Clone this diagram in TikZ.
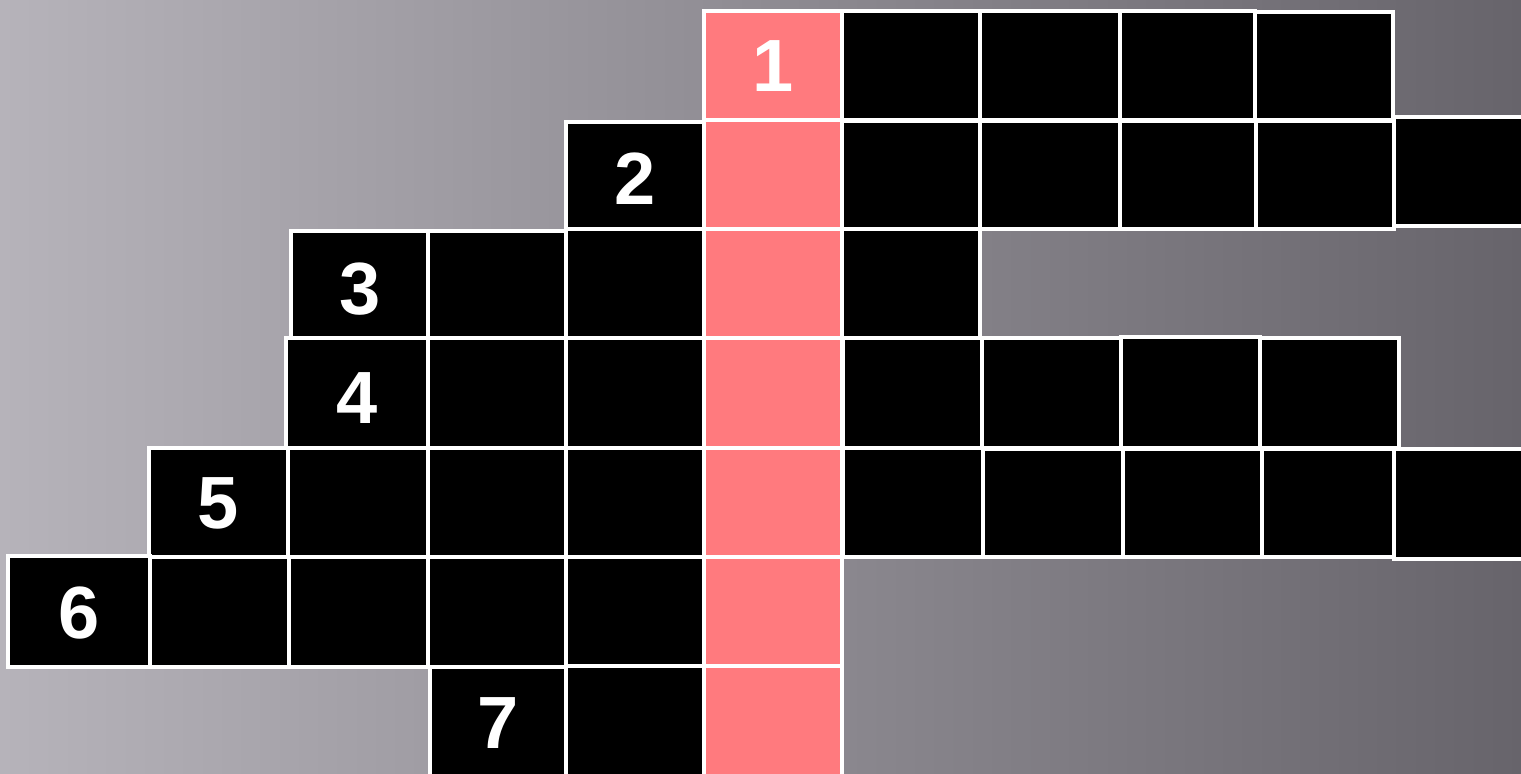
\documentclass[tikz,border=0pt]{standalone}
\usepackage{fontspec}
\setmainfont{Liberation Sans}
\usetikzlibrary{fadings}
\tikzfading[name=bandfade, left color=transparent!100, middle color=transparent!0, right color=transparent!100]
\definecolor{pinkcell}{HTML}{FF7A7E}
\definecolor{bgL}{HTML}{B6B3BA}
\definecolor{bgR}{HTML}{67646B}
\tikzset{
  blk/.style={fill=black, draw=white, line width=1.6pt},
  pnk/.style={fill=pinkcell, draw=white, line width=1.6pt},
  num/.style={text=white, font=\fontsize{37}{37}\selectfont\bfseries, inner sep=0pt, anchor=center},
  streak/.style={fill=white, path fading=bandfade}
}
\begin{document}
\begin{tikzpicture}[x=0.5pt, y=-0.5pt]
\useasboundingbox (0,0) rectangle (1521,774);
\begin{scope}
\clip (0,0) rectangle (1521,774);
\shade[left color=bgL, right color=bgR] (0,0) rectangle (1521,774);
% soft diagonal streaks
\fill[streak, fill opacity=0.14] (150,0) -- (420,0) -- (900,774) -- (630,774) -- cycle;
\fill[streak, fill opacity=0.12] (700,300) -- (860,300) -- (1180,774) -- (1020,774) -- cycle;
% row 1
\draw[pnk] (704,11) rectangle (842,120);
\draw[blk] (842,11) rectangle (980,120);
\draw[blk] (980,11) rectangle (1120,120);
\draw[blk] (1120,11) rectangle (1255,120);
\draw[blk] (1255,12) rectangle (1393,120);
% row 2
\draw[blk] (566,122) rectangle (704,229);
\draw[pnk] (704,120) rectangle (842,229);
\draw[blk] (842,121) rectangle (980,229);
\draw[blk] (980,121) rectangle (1120,229);
\draw[blk] (1120,121) rectangle (1256,229);
\draw[blk] (1256,121) rectangle (1394,229);
\draw[blk] (1394,117) rectangle (1530,226);
% row 3
\draw[blk] (291,231) rectangle (428,338);
\draw[blk] (428,231) rectangle (566,338);
\draw[blk] (566,229) rectangle (704,338);
\draw[pnk] (704,229) rectangle (842,338);
\draw[blk] (842,229) rectangle (980,338);
% row 4
\draw[blk] (286,338) rectangle (428,448);
\draw[blk] (428,338) rectangle (566,448);
\draw[blk] (566,338) rectangle (704,448);
\draw[pnk] (704,338) rectangle (842,448);
\draw[blk] (843,338) rectangle (982,448);
\draw[blk] (982,338) rectangle (1121,448);
\draw[blk] (1121,337) rectangle (1260,448);
\draw[blk] (1260,338) rectangle (1399,448);
% row 5
\draw[blk] (149,448) rectangle (288,557);
\draw[blk] (288,448) rectangle (428,557);
\draw[blk] (428,448) rectangle (566,557);
\draw[blk] (566,448) rectangle (704,557);
\draw[pnk] (704,448) rectangle (842,557);
\draw[blk] (843,448) rectangle (983,557);
\draw[blk] (983,449) rectangle (1123,557);
\draw[blk] (1123,449) rectangle (1262,557);
\draw[blk] (1262,449) rectangle (1394,557);
\draw[blk] (1394,449) rectangle (1530,559);
% row 6
\draw[blk] (8,556) rectangle (150,667);
\draw[blk] (150,557) rectangle (289,667);
\draw[blk] (289,557) rectangle (428,667);
\draw[blk] (428,557) rectangle (566,667);
\draw[blk] (566,557) rectangle (704,666);
\draw[pnk] (704,557) rectangle (842,666);
% row 7
\draw[blk] (430,667) rectangle (566,790);
\draw[blk] (566,666) rectangle (704,790);
\draw[pnk] (704,666) rectangle (842,790);
\end{scope}
% numbers
\node[num] (n1) at (773,66) {1};
\node[num] (n2) at (635,179) {2};
\node[num] (n3) at (360,289) {3};
\node[num] (n4) at (357,398) {4};
\node[num] (n5) at (218,503) {5};
\node[num] (n6) at (79,613) {6};
\node[num] (n7) at (498,723) {7};
\end{tikzpicture}
\end{document}
